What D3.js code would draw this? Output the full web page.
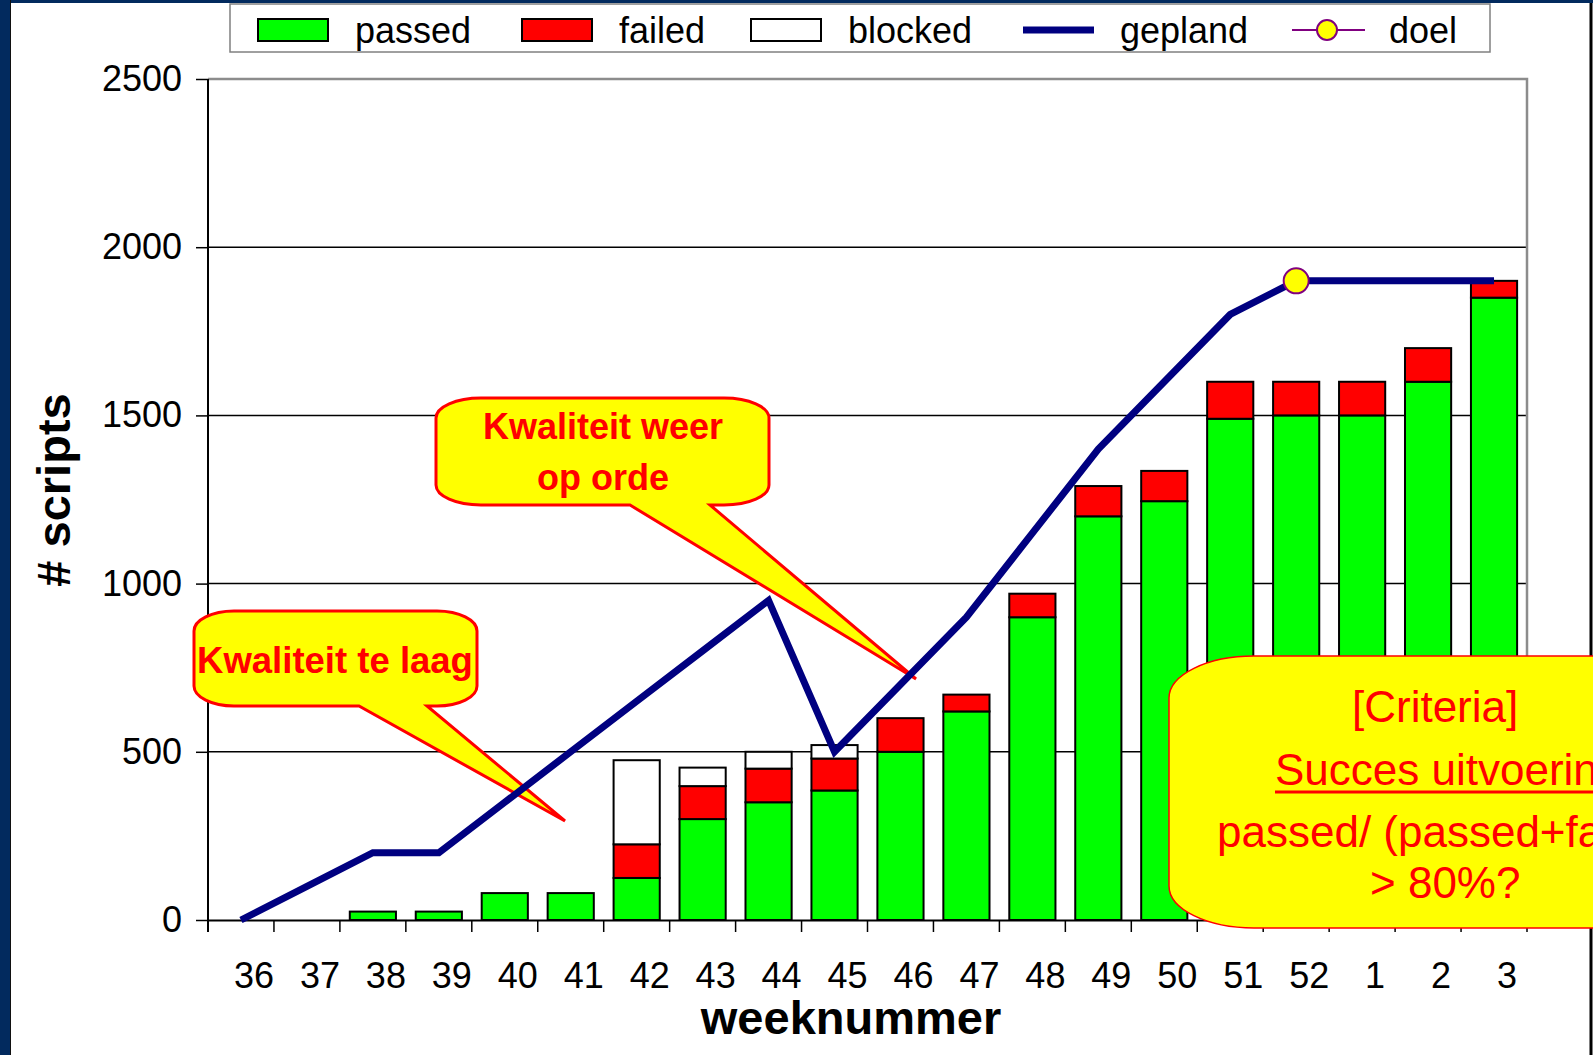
<!DOCTYPE html>
<html>
<head>
<meta charset="utf-8">
<script src="https://cdn.jsdelivr.net/npm/d3@7"></script>
<style>
  html, body { margin: 0; padding: 0; background: #fff; }
  svg { display: block; font-family: "Liberation Sans", Arial, sans-serif; }
</style>
</head>
<body>
<div id="chart"></div>
<script>
// weeks and series
const weeks = ["36", "37", "38", "39", "40", "41", "42", "43", "44", "45", "46", "47", "48", "49", "50", "51", "52", "1", "2", "3"];
const passed = [0, 0, 25, 25, 80, 80, 125, 300, 350, 385, 500, 620, 900, 1200, 1245, 1490, 1500, 1500, 1600, 1850];
const failed = [0, 0, 0, 0, 0, 0, 100, 98, 100, 95, 100, 50, 70, 90, 90, 110, 100, 100, 100, 50];
const blocked = [0, 0, 0, 0, 0, 0, 250, 55, 50, 40, 0, 0, 0, 0, 0, 0, 0, 0, 0, 0];
const gepland = [0, 100, 200, 200, 350, 500, 650, 800, 950, 500, 700, 900, 1150, 1400, 1600, 1800, 1900, 1900, 1900, 1900];
const doel = [{ week: "52", value: 1900 }];
const yTicks = [0, 500, 1000, 1500, 2000, 2500];

const W = 1593, H = 1055;
const plot = { left: 208, right: 1527, top: 79, bottom: 920 };

const svg = d3.select("#chart").append("svg")
    .attr("width", W)
    .attr("height", H);

svg.append("rect").attr("width", W).attr("height", H).attr("fill", "#fff");

const x = d3.scaleBand()
    .domain(weeks)
    .range([plot.left, plot.right])
    .paddingInner(0.3)
    .paddingOuter(0.15);

const y = d3.scaleLinear()
    .domain([0, 2500])
    .range([plot.bottom, plot.top]);

// slide frame
svg.append("rect").attr("x", 0).attr("y", 0).attr("width", 10).attr("height", H).attr("fill", "#022a5e");
svg.append("rect").attr("x", 0).attr("y", 0).attr("width", W).attr("height", 3).attr("fill", "#022a5e");
svg.append("line").attr("x1", 10.5).attr("x2", 10.5).attr("y1", 0).attr("y2", H).attr("stroke", "#111").attr("stroke-width", 1);
svg.append("line").attr("x1", 1591).attr("x2", 1591).attr("y1", 3).attr("y2", H).attr("stroke", "#000").attr("stroke-width", 3);

// legend
const legend = svg.append("g");
legend.append("rect")
    .attr("x", 230).attr("y", 4).attr("width", 1260).attr("height", 48)
    .attr("fill", "#fff").attr("stroke", "#808080").attr("stroke-width", 1.5);

const legendItems = [
    { name: "passed", kind: "rect", color: "#00ff00", x: 258 },
    { name: "failed", kind: "rect", color: "#ff0000", x: 522 },
    { name: "blocked", kind: "rect", color: "#ffffff", x: 751 },
    { name: "gepland", kind: "line", color: "#000080", x: 1023 },
    { name: "doel", kind: "marker", color: "#800080", x: 1292 }
];

legendItems.forEach(d => {
    const g = legend.append("g");
    if (d.kind === "rect") {
        g.append("rect")
            .attr("x", d.x).attr("y", 19).attr("width", 70).attr("height", 22)
            .attr("fill", d.color).attr("stroke", "#000").attr("stroke-width", 2);
    } else if (d.kind === "line") {
        g.append("line")
            .attr("x1", d.x).attr("x2", d.x + 71).attr("y1", 30).attr("y2", 30)
            .attr("stroke", d.color).attr("stroke-width", 7);
    } else {
        g.append("line")
            .attr("x1", d.x).attr("x2", d.x + 73).attr("y1", 30).attr("y2", 30)
            .attr("stroke", d.color).attr("stroke-width", 2);
        g.append("circle")
            .attr("cx", d.x + 35).attr("cy", 30).attr("r", 10)
            .attr("fill", "#ffff00").attr("stroke", d.color).attr("stroke-width", 2);
    }
    g.append("text")
        .attr("x", d.x + 97).attr("y", 43)
        .attr("font-size", 36)
        .attr("fill", "#000")
        .text(d.name);
});

// gridlines
svg.append("g")
    .selectAll("line")
    .data(yTicks.filter(v => v > 0 && v < 2500))
    .join("line")
    .attr("x1", plot.left).attr("x2", plot.right)
    .attr("y1", d => y(d)).attr("y2", d => y(d))
    .attr("stroke", "#000").attr("stroke-width", 1.5);

// plot border (top and right, gray)
svg.append("path")
    .attr("d", `M${plot.left},${plot.top}H${plot.right}V${plot.bottom}`)
    .attr("fill", "none").attr("stroke", "#8c8c8c").attr("stroke-width", 2.5);

// stacked bars
const rows = weeks.map((w, i) => ({ week: w, passed: passed[i], failed: failed[i], blocked: blocked[i] }));
const keys = ["passed", "failed", "blocked"];
const colors = { passed: "#00ff00", failed: "#ff0000", blocked: "#ffffff" };
const stacked = d3.stack().keys(keys)(rows);

svg.append("g")
    .selectAll("g")
    .data(stacked)
    .join("g")
    .attr("fill", d => colors[d.key])
    .selectAll("rect")
    .data(d => d.filter(s => s[1] - s[0] > 0))
    .join("rect")
    .attr("x", d => x(d.data.week))
    .attr("width", x.bandwidth())
    .attr("y", d => y(d[1]))
    .attr("height", d => y(d[0]) - y(d[1]))
    .attr("stroke", "#000")
    .attr("stroke-width", 2);

// y axis
const yAxis = svg.append("g")
    .attr("transform", `translate(${plot.left},0)`)
    .call(d3.axisLeft(y).tickValues(yTicks).tickFormat(d3.format("d")).tickSize(12).tickPadding(14));
yAxis.select(".domain").remove();
yAxis.selectAll(".tick line").attr("stroke", "#000").attr("stroke-width", 1.5);
yAxis.selectAll(".tick text")
    .attr("font-size", 36).attr("font-family", "'Liberation Sans', Arial, sans-serif")
    .attr("fill", "#000");
svg.append("line")
    .attr("x1", plot.left).attr("x2", plot.left)
    .attr("y1", plot.top).attr("y2", plot.bottom + 12)
    .attr("stroke", "#000").attr("stroke-width", 2);

// x axis
const xAxis = svg.append("g")
    .attr("transform", `translate(0,${plot.bottom})`)
    .call(d3.axisBottom(x).tickSize(0).tickPadding(42));
xAxis.select(".domain").attr("stroke", "#000").attr("stroke-width", 2);
xAxis.selectAll(".tick text")
    .attr("font-size", 36).attr("font-family", "'Liberation Sans', Arial, sans-serif")
    .attr("fill", "#000").attr("dx", 13);

const bounds = d3.range(weeks.length + 1).map(i => plot.left + i * x.step());
svg.append("g")
    .selectAll("line")
    .data(bounds)
    .join("line")
    .attr("x1", d => d).attr("x2", d => d)
    .attr("y1", plot.bottom).attr("y2", plot.bottom + 12)
    .attr("stroke", "#000").attr("stroke-width", 1.5);

// axis titles
svg.append("text")
    .attr("transform", "translate(70,490) rotate(-90)")
    .attr("text-anchor", "middle")
    .attr("font-size", 47).attr("font-weight", "bold")
    .text("# scripts");

svg.append("text")
    .attr("x", 851).attr("y", 1034)
    .attr("text-anchor", "middle")
    .attr("font-size", 47).attr("font-weight", "bold")
    .text("weeknummer");

// callouts
function calloutPath(x0, y0, x1, y1, rx, ry, bl, br, tx, ty) {
    return `M${x0 + rx},${y0}H${x1 - rx}` +
        `A${rx},${ry} 0 0 1 ${x1},${y0 + ry}V${y1 - ry}` +
        `A${rx},${ry} 0 0 1 ${x1 - rx},${y1}H${br}L${tx},${ty}L${bl},${y1}H${x0 + rx}` +
        `A${rx},${ry} 0 0 1 ${x0},${y1 - ry}V${y0 + ry}` +
        `A${rx},${ry} 0 0 1 ${x0 + rx},${y0}Z`;
}

const callouts = svg.append("g");
callouts.append("path")
    .attr("d", calloutPath(194, 611, 477, 706, 40, 20, 359, 427, 565, 821))
    .attr("fill", "#ffff00").attr("stroke", "#ff0000").attr("stroke-width", 3);
callouts.append("text")
    .attr("x", 335).attr("y", 673)
    .attr("text-anchor", "middle")
    .attr("font-size", 36.5).attr("font-weight", "bold").attr("fill", "#ff0000")
    .text("Kwaliteit te laag");

callouts.append("path")
    .attr("d", calloutPath(436, 398, 769, 505, 45, 20, 630, 710, 916, 679))
    .attr("fill", "#ffff00").attr("stroke", "#ff0000").attr("stroke-width", 3);
callouts.append("text")
    .attr("x", 603).attr("y", 439)
    .attr("text-anchor", "middle")
    .attr("font-size", 36).attr("font-weight", "bold").attr("fill", "#ff0000")
    .text("Kwaliteit weer");
callouts.append("text")
    .attr("x", 603).attr("y", 490)
    .attr("text-anchor", "middle")
    .attr("font-size", 36).attr("font-weight", "bold").attr("fill", "#ff0000")
    .text("op orde");

// planned line
const line = d3.line()
    .x((d, i) => x(weeks[i]) + x.bandwidth() / 2)
    .y(d => y(d));

svg.append("path")
    .datum(gepland)
    .attr("d", line)
    .attr("fill", "none")
    .attr("stroke", "#000080")
    .attr("stroke-width", 7)
    .attr("stroke-linejoin", "miter");

svg.append("g")
    .selectAll("circle")
    .data(doel)
    .join("circle")
    .attr("cx", d => x(d.week) + x.bandwidth() / 2)
    .attr("cy", d => y(d.value))
    .attr("r", 12.5)
    .attr("fill", "#ffff00")
    .attr("stroke", "#800080")
    .attr("stroke-width", 2);

// criteria box
const crit = svg.append("g");
crit.append("rect")
    .attr("x", 1169).attr("y", 656).attr("width", 600).attr("height", 272)
    .attr("rx", 85).attr("ry", 42)
    .attr("fill", "#ffff00").attr("stroke", "#ff0000").attr("stroke-width", 1.5);

const critLines = [
    { text: "[Criteria]", x: 1352, y: 722 },
    { text: "Succes uitvoering", x: 1275, y: 785 },
    { text: "passed/ (passed+failed)", x: 1217, y: 847 },
    { text: "> 80%?", x: 1370, y: 898 }
];
crit.selectAll("text")
    .data(critLines)
    .join("text")
    .attr("x", d => d.x).attr("y", d => d.y)
    .attr("font-size", 44).attr("fill", "#ff0000")
    .text(d => d.text);
crit.append("line")
    .attr("x1", 1275).attr("x2", 1640).attr("y1", 792).attr("y2", 792)
    .attr("stroke", "#ff0000").attr("stroke-width", 3);
</script>
</body>
</html>
